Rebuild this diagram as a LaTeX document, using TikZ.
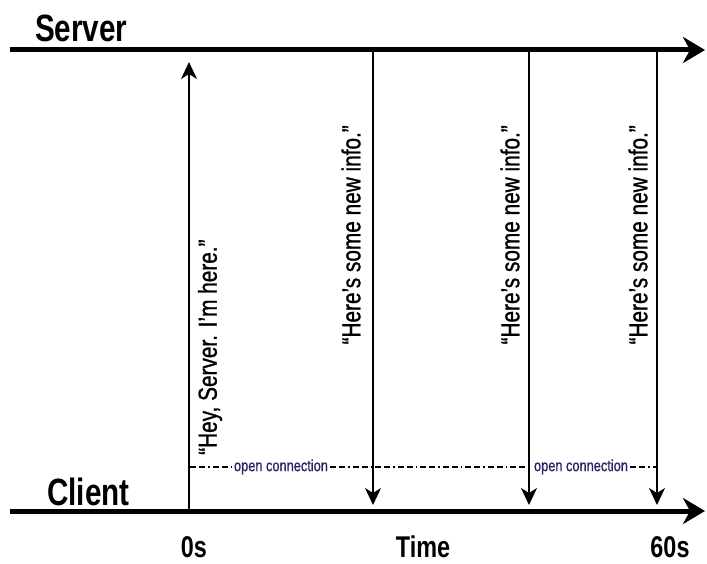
\documentclass[tikz,border=0pt]{standalone}
\usepackage{fontspec}
\setmainfont{Liberation Sans}[FakeStretch=0.78]
\newfontfamily\medfont{Liberation Sans}[Ligatures=TeX, FakeStretch=0.8, FakeBold=1]
\usetikzlibrary{arrows.meta, positioning}

\definecolor{opencol}{RGB}{40,35,100}

\tikzset{
  axisline/.style={line width=5pt, -{Stealth[length=22pt, width=26pt, inset=7pt]}},
  msgline/.style={line width=1.3pt, -{Stealth[length=17pt, width=16pt, inset=5pt]}},
  axislabel/.style={inner sep=0pt, font=\fontsize{38}{42}\selectfont\bfseries},
  timelabel/.style={inner sep=0pt, font=\fontsize{30}{34}\selectfont\bfseries},
  msglabel/.style={rotate=90, inner sep=0pt, font=\medfont\fontsize{26}{30}\selectfont},
  openlabel/.style={inner sep=2pt, text=opencol, font=\medfont\fontsize{16}{18}\selectfont},
  waitline/.style={line width=1.1pt, dash pattern=on 6pt off 3pt on 6pt off 3pt on 1.5pt off 3pt},
}

\begin{document}
\begin{tikzpicture}[x=1pt, y=-1pt]
  \useasboundingbox (0,0) rectangle (707,564);

  % time lines
  \coordinate (srvstart) at (10,50);
  \coordinate (srvend) at (705,50);
  \coordinate (clistart) at (10,511);
  \coordinate (cliend) at (705,511);
  \draw[axisline] (srvstart) -- (srvend);
  \draw[axisline] (clistart) -- (cliend);
  \node[axislabel, anchor=base west] (server) at (35,42) {Server};
  \node[axislabel, anchor=base west] (client) at (47,505) {Client};

  % messages
  \coordinate (heyc) at (189,511);
  \coordinate (heys) at (189,62);
  \coordinate (infoas) at (373,50);
  \coordinate (infoac) at (373,505);
  \coordinate (infobs) at (529,50);
  \coordinate (infobc) at (529,505);
  \coordinate (infocs) at (657,50);
  \coordinate (infocc) at (657,505);
  \draw[msgline] (heyc) -- (heys);
  \draw[msgline] (infoas) -- (infoac);
  \draw[msgline] (infobs) -- (infobc);
  \draw[msgline] (infocs) -- (infocc);
  \node[msglabel, anchor=west] (heymsg) at (210,455) {``Hey, Server. I'm here.''};
  \node[msglabel, anchor=east] (infoamsg) at (351,125) {``Here's some new info.''};
  \node[msglabel, anchor=east] (infobmsg) at (510,125) {``Here's some new info.''};
  \node[msglabel, anchor=east] (infocmsg) at (638,125) {``Here's some new info.''};

  % open connection
  \coordinate (waitstart) at (190,467);
  \coordinate (waitend) at (657,467);
  \node[openlabel] (opena) at (281,467) {open connection};
  \node[openlabel] (openb) at (581,467) {open connection};
  \draw[waitline] (waitstart) -- (opena);
  \draw[waitline] (opena) -- (openb);
  \draw[waitline] (openb) -- (waitend);

  % time axis
  \node[timelabel, anchor=base] (zero) at (194,557) {0s};
  \node[timelabel, anchor=base] (time) at (423,557) {Time};
  \node[timelabel, anchor=base] (sixty) at (670,557) {60s};
\end{tikzpicture}
\end{document}
